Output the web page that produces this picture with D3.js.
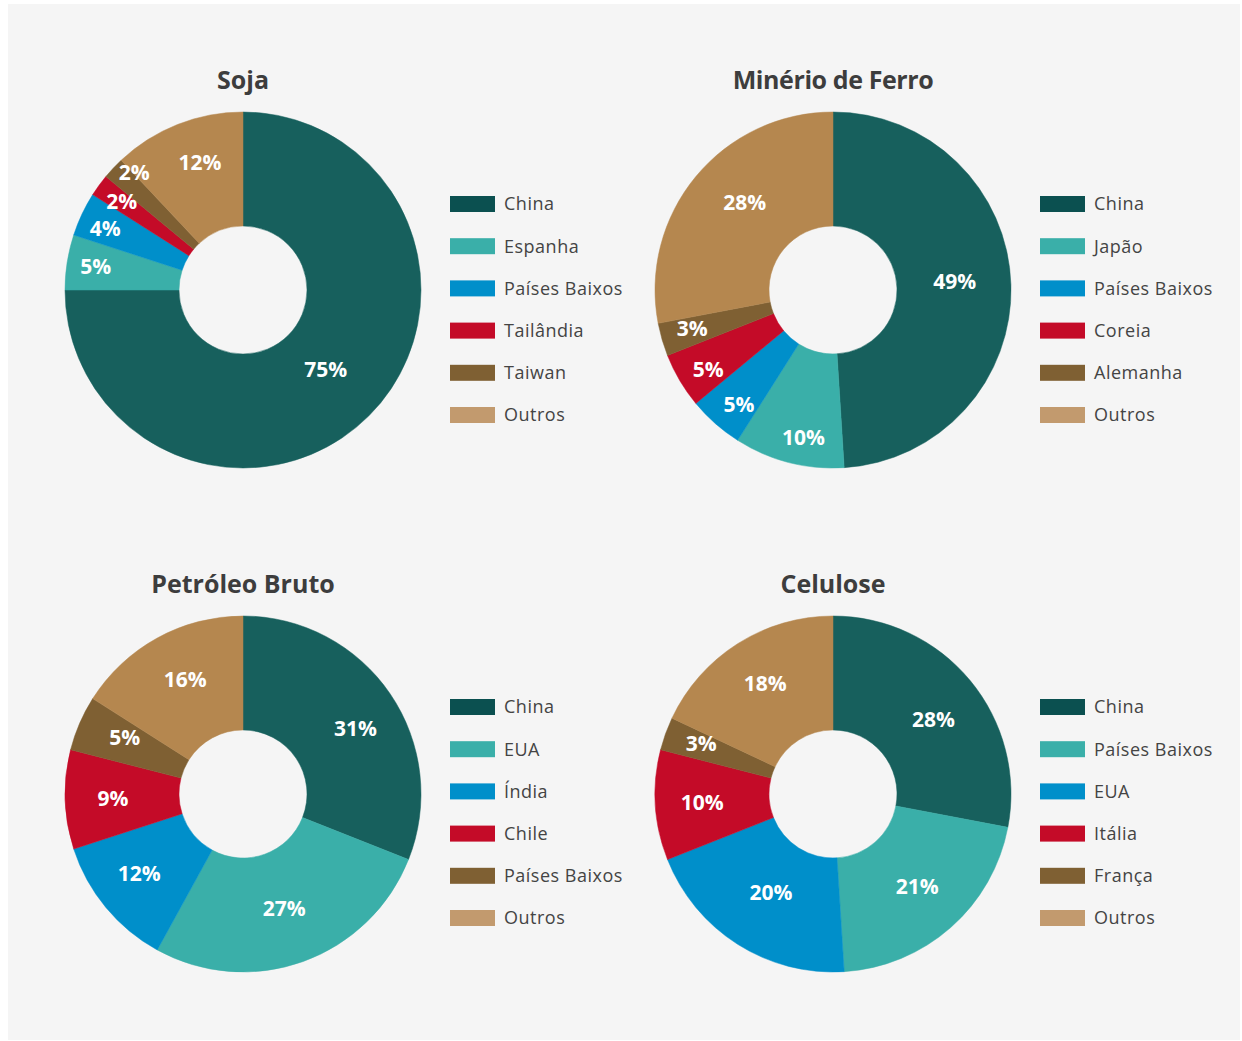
<!DOCTYPE html>
<html><head><meta charset="utf-8">
<script src="https://cdn.jsdelivr.net/npm/d3@7"></script>
<style>
html,body{margin:0;padding:0;background:#fff;}
svg{display:block;}
</style></head>
<body>
<svg id="chart" width="1242" height="1041"></svg>
<script>
// ---- data ----
const titles = ["Soja", "Minério de Ferro", "Petróleo Bruto", "Celulose"];
const sojaCountries = ["China", "Espanha", "Países Baixos", "Tailândia", "Taiwan", "Outros"];
const sojaValues = [75, 5, 4, 2, 2, 12];
const minerioCountries = ["China", "Japão", "Países Baixos", "Coreia", "Alemanha", "Outros"];
const minerioValues = [49, 10, 5, 5, 3, 28];
const petroleoCountries = ["China", "EUA", "Índia", "Chile", "Países Baixos", "Outros"];
const petroleoValues = [31, 27, 12, 9, 5, 16];
const celuloseCountries = ["China", "Países Baixos", "EUA", "Itália", "França", "Outros"];
const celuloseValues = [28, 21, 20, 10, 3, 18];

// ---- style / layout ----
const sliceColors = ["#17605d", "#3aafa9", "#008fca", "#c40b28", "#7f6033", "#b5874f"];
const legendColors = ["#0b5050", "#3aafa9", "#008fca", "#c40b28", "#7f6033", "#c29a6e"];

// label placement (radius in px, angular nudge in degrees) per slice
const layouts = [
  {cx: 243, cy: 290, ly: 204, lr: [115, 149, 151, 150, 160, 135], la: [-1, 0, -1, 0, 4, 3]},
  {cx: 833, cy: 290, ly: 204, lr: [122, 150, 148, 148, 146, 124], la: [-2, -3, -2, -2, 1, 5]},
  {cx: 243, cy: 794, ly: 707, lr: [130, 122, 131, 130, 131, 128], la: [4, 0, 2, 0, 2, 2]},
  {cx: 833, cy: 794, ly: 707, lr: [125, 125, 116, 131, 141, 130], la: [3, -1, 0, 0, 1, 1]}
];
const chartData = [
  [sojaCountries, sojaValues],
  [minerioCountries, minerioValues],
  [petroleoCountries, petroleoValues],
  [celuloseCountries, celuloseValues]
];

const svg = d3.select("#chart");
svg.append("rect").attr("x", 8).attr("y", 4).attr("width", 1232).attr("height", 1036).attr("fill", "#f5f5f5");

const outerR = 178, innerR = 64;
const pie = d3.pie().sort(null).value(d => d.v);
const arc = d3.arc().innerRadius(innerR).outerRadius(outerR);
const font = "'Open Sans', 'Noto Sans', sans-serif";

chartData.forEach(([cats, vals], ci) => {
  const c = layouts[ci];
  const g = svg.append("g").attr("transform", `translate(${c.cx},${c.cy})`);
  const data = cats.map((k, i) => ({k, v: vals[i], i}));
  const arcs = pie(data);
  g.selectAll("path").data(arcs).join("path")
    .attr("d", arc)
    .attr("fill", d => sliceColors[d.data.i])
    .attr("stroke", d => sliceColors[d.data.i])
    .attr("stroke-width", 0.5);
  g.selectAll("text.lbl").data(arcs).join("text")
    .attr("class", "lbl")
    .attr("transform", d => {
      const r = c.lr[d.data.i];
      const a = (d.startAngle + d.endAngle) / 2 + c.la[d.data.i] * Math.PI / 180;
      return `translate(${r * Math.sin(a)},${-r * Math.cos(a)})`;
    })
    .attr("text-anchor", "middle")
    .attr("dy", "0.36em")
    .attr("fill", "#fff")
    .attr("font-family", font)
    .attr("font-weight", "bold")
    .attr("font-size", 21)
    .attr("letter-spacing", 0)
    .text(d => d.data.v + "%");

  svg.append("text")
    .attr("x", c.cx).attr("y", c.cy - 201)
    .attr("text-anchor", "middle")
    .attr("fill", "#3d3d3d")
    .attr("font-family", font)
    .attr("font-weight", "bold")
    .attr("font-size", 25)
    .attr("letter-spacing", ci === 1 ? -0.4 : 0)
    .text(titles[ci]);

  const leg = svg.append("g").attr("transform", `translate(${c.cx + 207},${c.ly})`);
  const ly = d3.scalePoint().domain(cats).range([0, 211]);
  cats.forEach((k, i) => {
    leg.append("rect").attr("x", 0).attr("y", ly(k) - 8).attr("width", 45).attr("height", 16)
      .attr("fill", legendColors[i]);
    leg.append("text").attr("x", 54).attr("y", ly(k)).attr("dy", "0.35em")
      .attr("fill", "#444").attr("font-family", font).attr("font-size", 18)
      .attr("letter-spacing", 0.5)
      .text(k);
  });
});
</script>
</body></html>
